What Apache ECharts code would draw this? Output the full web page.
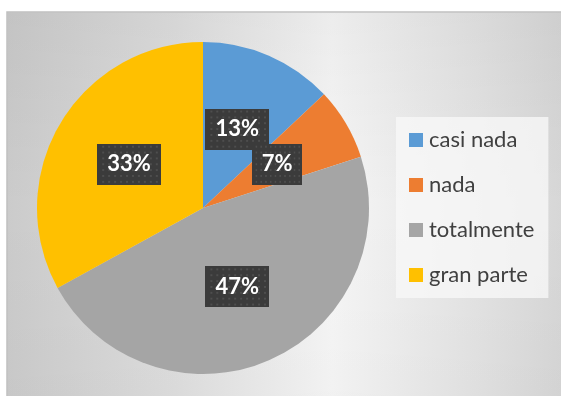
<!DOCTYPE html>
<html>
<head>
<meta charset="utf-8">
<script src="https://cdn.jsdelivr.net/npm/echarts@6/dist/echarts.min.js"></script>
<style>
  html, body { margin: 0; padding: 0; background: #ffffff; }
  #chart { width: 561px; height: 396px; }
</style>
</head>
<body>
<div id="chart"></div>
<script>
// Answer categories and their shares (percent)
const categories = ['casi nada', 'nada', 'totalmente', 'gran parte'];
const shares = [13, 7, 47, 33];
const sliceColors = ['#5b9bd5', '#ed7d31', '#a5a5a5', '#ffc000'];

// Dotted dark texture used behind the percentage labels
function dottedTile(w, h) {
  const c = document.createElement('canvas');
  c.width = w; c.height = h;
  const g = c.getContext('2d');
  g.fillStyle = '#3b3b3b';
  g.fillRect(0, 0, w, h);
  g.fillStyle = '#4e4e4e';
  for (let y = 2; y < h; y += 6) {
    for (let x = (y / 6) % 2 ? 5 : 2; x < w; x += 6) {
      g.fillRect(x, y, 2, 2);
    }
  }
  return c;
}
const labelTexture = dottedTile(64, 42);

const chart = echarts.init(document.getElementById('chart'), null, { renderer: 'canvas' });

chart.setOption({
  animation: false,
  backgroundColor: '#ffffff',
  graphic: [
    {
      type: 'rect',
      z: -10,
      shape: { x: 7, y: 12, width: 560, height: 390 },
      style: {
        fill: {
          type: 'linear', x: 0, y: 0, x2: 1, y2: 0,
          colorStops: [
            { offset: 0, color: '#cbcbcb' },
            { offset: 0.3, color: '#dedede' },
            { offset: 0.58, color: '#f6f6f6' },
            { offset: 0.85, color: '#e2e2e2' },
            { offset: 1, color: '#d6d6d6' }
          ]
        },
        stroke: '#c0c0c0',
        lineWidth: 1.5
      }
    },
    {
      type: 'rect',
      z: -9,
      shape: { x: 8, y: 13, width: 560, height: 390 },
      style: {
        fill: {
          type: 'linear', x: 0, y: 0, x2: 0, y2: 1,
          colorStops: [
            { offset: 0, color: 'rgba(0,0,0,0.04)' },
            { offset: 0.5, color: 'rgba(0,0,0,0)' },
            { offset: 1, color: 'rgba(0,0,0,0.02)' }
          ]
        }
      }
    }
  ],
  legend: {
    orient: 'vertical',
    left: 396,
    top: 117,
    icon: 'rect',
    itemWidth: 14,
    itemHeight: 14,
    itemGap: 23,
    padding: [12, 14, 12, 13],
    backgroundColor: 'rgba(247,247,247,0.8)',
    data: categories,
    textStyle: {
      fontFamily: 'Lato',
      fontSize: 22,
      lineHeight: 22,
      color: '#404040',
      padding: [0, 0, 0, 1]
    }
  },
  series: [
    {
      type: 'pie',
      center: [203, 208],
      radius: 166,
      startAngle: 90,
      clockwise: true,
      avoidLabelOverlap: false,
      minShowLabelAngle: 0,
      itemStyle: { borderWidth: 0 },
      labelLayout: { hideOverlap: false },
      label: {
        show: true,
        position: 'inside',
        overflow: 'none',
        formatter: p => p.value + '%',
        fontFamily: 'Lato',
        fontWeight: 'bold',
        fontSize: 22,
        lineHeight: 22,
        color: '#ffffff',
        backgroundColor: { image: labelTexture },
        padding: [10, 10, 9, 10],
        shadowColor: 'rgba(0,0,0,0.45)',
        shadowBlur: 5,
        shadowOffsetX: 2,
        shadowOffsetY: 2
      },
      labelLine: { show: false },
      emphasis: { disabled: true },
      data: categories.map((name, i) => ({
        name: name,
        value: shares[i],
        itemStyle: { color: sliceColors[i] }
      }))
    }
  ]
});
</script>
</body>
</html>
